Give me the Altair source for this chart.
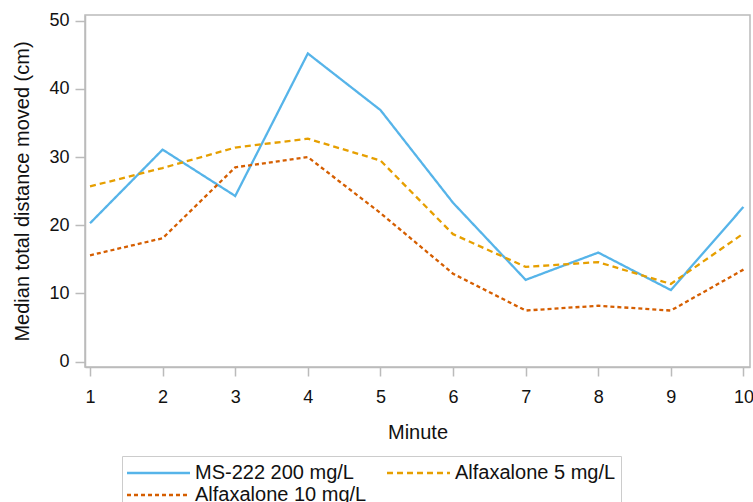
import altair as alt
import pandas as pd

minutes = [1, 2, 3, 4, 5, 6, 7, 8, 9, 10]
ms222 = [20.3, 31.1, 24.3, 45.2, 36.9, 23.3, 12.0, 16.0, 10.5, 22.7]
alfax5 = [25.7, 28.4, 31.4, 32.7, 29.5, 18.7, 13.9, 14.6, 11.4, 18.8]
alfax10 = [15.6, 18.1, 28.5, 30.0, 21.8, 12.9, 7.5, 8.2, 7.5, 13.5]
series = ["MS-222 200 mg/L", "Alfaxalone 5 mg/L", "Alfaxalone 10 mg/L"]
colors = ["#56B4E9", "#E69F00", "#D55E00"]
dashes = [[1, 0], [6, 4], [4, 3]]
x_ticks = [1, 1.5, 2, 2.5, 3, 3.5, 4, 4.5, 5, 5.5, 6, 6.5, 7, 7.5, 8, 8.5, 9, 9.5, 10]
y_ticks = [0, 10, 20, 30, 40, 50]

rows = []
for name, vals in zip(series, [ms222, alfax5, alfax10]):
    for m, v in zip(minutes, vals):
        rows.append({"Minute": m, "Value": v, "Group": name})
df = pd.DataFrame(rows)

FONT = "Liberation Sans"

chart = alt.Chart(df).mark_line(strokeWidth=2.3).encode(
    x=alt.X("Minute:Q", scale=alt.Scale(domain=[0.931, 10.09], nice=False, zero=False),
            axis=alt.Axis(values=x_ticks, title="Minute", grid=False, format="d",
                          labelExpr="datum.value % 1 === 0 ? datum.label : ''",
                          labelOverlap=False, labelFlush=False,
                          tickSize={"condition": {"test": "datum.value % 1 !== 0", "value": 5}, "value": 9},
                          labelPadding=12, titlePadding=16)),
    y=alt.Y("Value:Q", scale=alt.Scale(domain=[-0.78, 50.84], nice=False, zero=False),
            axis=alt.Axis(values=y_ticks, title="Median total distance moved (cm)", grid=False,
                          tickSize=10, labelPadding=6, titlePadding=16)),
    color=alt.Color("Group:N", scale=alt.Scale(domain=series, range=colors),
                    sort=series,
                    legend=alt.Legend(title=None, orient="none", legendX=37, legendY=441,
                                      columns=2, direction="horizontal",
                                      symbolType="M-1.143,0H4.857", symbolSize=441, symbolStrokeWidth=2.5,
                                      labelFontSize=20, labelFont=FONT, labelColor="#111",
                                      columnPadding=14, rowPadding=0, labelOffset=44,
                                      padding=5, strokeColor="#cccccc", fillColor="white",
                                      labelLimit=400)),
    strokeDash=alt.StrokeDash("Group:N", scale=alt.Scale(domain=series, range=dashes),
                              sort=series, legend=None),
).properties(
    width=665, height=352,
    padding={"left": 85, "top": 15, "right": 3, "bottom": 135},
    autosize=alt.AutoSizeParams(type="none"),
).configure_view(
    stroke="#bbbbbb", strokeWidth=1.5
).configure_axis(
    labelFont=FONT, titleFont=FONT, labelFontSize=18, titleFontSize=20,
    labelColor="#111", titleColor="#111", titleFontWeight="normal",
    domainColor="#bbbbbb", tickColor="#bbbbbb", tickWidth=1.5, domainWidth=1.5,
)

chart.save("out.html", embed_options={"renderer": "svg", "actions": False})
